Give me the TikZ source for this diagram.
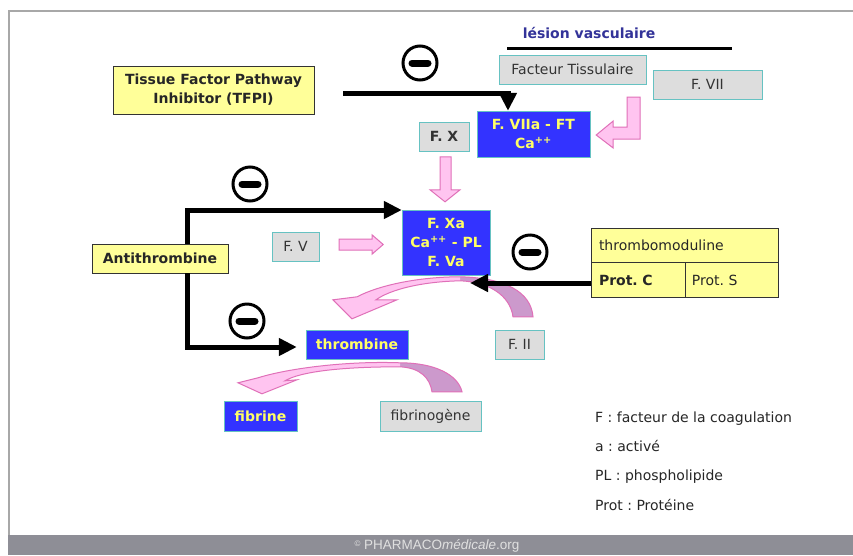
\documentclass[tikz,border=0pt]{standalone}
\usepackage{fontspec}
\setmainfont{DejaVu Sans}
\newfontfamily\sitefont{Liberation Sans}
\frenchspacing
\usetikzlibrary{arrows.meta}
\usetikzlibrary{positioning}

\definecolor{boxyellow}{HTML}{FFFF99}
\definecolor{boxblue}{HTML}{3333FF}
\definecolor{textyellow}{HTML}{FFFF66}
\definecolor{boxgray}{HTML}{DDDDDD}
\definecolor{boxteal}{HTML}{66C2C2}
\definecolor{pinkfill}{HTML}{FFC4F0}
\definecolor{pinkline}{HTML}{E070B8}
\definecolor{mauve}{HTML}{CC99CC}
\definecolor{lesionblue}{HTML}{333399}
\definecolor{framegray}{HTML}{A8A8A8}
\definecolor{footgray}{HTML}{8E8E96}

\begin{document}
\begin{tikzpicture}[x=1pt,y=-1pt] %% coagulation cascade
	\tikzstyle{plainfont}=[font=\fontsize{14}{19}\selectfont];
	\tikzstyle{boldfont}=[font=\fontsize{14}{19}\selectfont\bfseries];
	\tikzstyle{inhibitor}=[rectangle,draw=black!80,fill=boxyellow,boldfont,text=black!85,inner sep=0pt,align=center];
	\tikzstyle{factor}=[rectangle,draw=boxteal,fill=boxgray,plainfont,text=black!80,inner sep=0pt,minimum height=29pt];
	\tikzstyle{complex}=[rectangle,draw=boxteal,fill=boxblue,boldfont,text=textyellow,inner sep=0pt,align=center];
	\tikzstyle{inhib}=[line width=5pt,-{Triangle[length=18pt,width=17pt]}];
	\tikzstyle{inhibsign}=[circle,draw,line width=3pt,minimum size=34pt,inner sep=0pt,
		path picture={\draw[line width=7pt,line cap=round] ([xshift=9pt]path picture bounding box.west) -- ([xshift=-9pt]path picture bounding box.east);}];
	\tikzstyle{pinkblock}=[fill=pinkfill,draw=pinkline,line width=1pt];
	\tikzstyle{legend}=[plainfont,anchor=west,inner sep=0pt,text height=11pt,text depth=3pt,text=black!85];

	\fill[white] (0,0) rectangle (853,555);
	\useasboundingbox (0,0) rectangle (853,555);
	\draw[framegray,line width=2.5pt] (9,535) -- (9,11) -- (853,11);
	\fill[footgray] (8,535) rectangle (853,555);
	\node[font=\sitefont\fontsize{13.5}{16}\selectfont,text=white!88!black] (site) at (437,546)
		{\raisebox{3pt}{\fontsize{8}{8}\selectfont\textcopyright} PHARMACO\textit{médicale}.org};

	\node[factor,minimum width=147pt] (FT) at (572.5,69.5) {Facteur Tissulaire};
	\node[factor,minimum width=109pt] (FVII) at (707.5,84.5) {F. VII};
	\node[boldfont,text=lesionblue] (lesion) at (589,33) {lésion vasculaire};
	\coordinate (lv1) at (507,48);
	\coordinate (lv2) at (732,48);
	\draw[line width=3pt] (lv1) -- (lv2);

	\node[inhibitor,minimum width=201pt,minimum height=48pt] (TFPI) at (213.5,90) {Tissue Factor Pathway\\Inhibitor (TFPI)};
	\node[complex,minimum width=113pt,minimum height=46pt] (VIIaFT) at (533.5,134) {F. VIIa - FT\\Ca\textsuperscript{++}};
	\node[factor,boldfont,minimum width=50pt] (FX) at (444,136.5) {F. X};
	\node[complex,minimum width=88pt,minimum height=65pt] (FXa) at (446,242.5) {F. Xa\\Ca\textsuperscript{++} - PL\\F. Va};
	\node[factor,minimum width=47pt] (FV) at (295.5,246.5) {F. V};
	\node[inhibitor,minimum width=136pt,minimum height=29pt] (AT) at (160,258.5) {Antithrombine};
	\node[complex,minimum width=102pt,minimum height=29pt] (thrombine) at (357,344.5) {thrombine};
	\node[factor,minimum width=49pt] (FII) at (519.5,344.5) {F. II};
	\node[complex,minimum width=73pt,minimum height=30pt] (fibrine) at (260.5,416) {fibrine};
	\node[factor,minimum width=101pt,minimum height=30pt] (fibrinogene) at (430.5,416) {fibrinogène};

	\node[inhibitor,plainfont,minimum width=187pt,minimum height=34pt,text width=171pt,align=left] (TM) at (684.5,245) {thrombomoduline};
	\node[inhibitor,minimum width=94pt,minimum height=35pt,text width=78pt,align=left,anchor=north west] (ProtC) at (TM.south west) {Prot. C};
	\node[inhibitor,plainfont,minimum width=93pt,minimum height=35pt,text width=80pt,align=left,anchor=north west] (ProtS) at (ProtC.north east) {Prot. S};

	% pink activation arrows
	\draw[pinkblock,shift={(FXa.north)}] (-6,-53) -- (5,-53) -- (5,-20) -- (14,-20) -- (-1,-8) -- (-16,-20) -- (-6,-20) -- cycle;
	\draw[pinkblock,shift={(FV.east)}] (20,-7.5) -- (53,-7.5) -- (53,-11.5) -- (64,-2) -- (53,7.5) -- (53,3.5) -- (20,3.5) -- cycle;
	\draw[pinkblock,shift={(VIIaFT.east)}] (37,-37) -- (50,-37) -- (50,5) -- (23,5) -- (23,14) -- (6,1) -- (23,-13) -- (23,-7) -- (37,-7) -- cycle;

	\begin{scope}[shift={(FII.north)}]
		\fill[mauve] (13.5,-13) .. controls (11.5,-38) and (-14.5,-52) .. (-59.5,-53) -- (-59.5,-49) .. controls (-31.5,-48) and (-9.5,-35) .. (-6.5,-13) -- cycle;
		\fill[pinkfill] (-59.5,-53) .. controls (-99.5,-53) and (-139.5,-45) .. (-162.5,-33) -- (-186.5,-30) -- (-167.5,-11) -- (-122.5,-30) -- (-143.5,-30) .. controls (-129.5,-40) and (-99.5,-48) .. (-59.5,-49) -- cycle;
		\draw[pinkline,line width=1pt] (13.5,-13) .. controls (11.5,-38) and (-14.5,-52) .. (-59.5,-53) .. controls (-99.5,-53) and (-139.5,-45) .. (-162.5,-33) -- (-186.5,-30) -- (-167.5,-11) -- (-122.5,-30) -- (-143.5,-30) .. controls (-129.5,-40) and (-99.5,-48) .. (-59.5,-49) .. controls (-31.5,-48) and (-9.5,-35) .. (-6.5,-13) -- cycle;
	\end{scope}
	\begin{scope}[shift={(fibrinogene.north)}]
		\fill[mauve] (31.5,-9) .. controls (27.5,-26) and (4.5,-38) .. (-30.5,-38) -- (-30.5,-34) .. controls (-10.5,-33) and (-0.5,-23) .. (1.5,-9) -- cycle;
		\fill[pinkfill] (-30.5,-38) .. controls (-80.5,-40) and (-140.5,-33) .. (-172.5,-23) -- (-192.5,-18) -- (-168.5,-7) -- (-133.5,-21) -- (-145.5,-20) .. controls (-130.5,-29) and (-90.5,-34) .. (-30.5,-34) -- cycle;
		\draw[pinkline,line width=1pt] (31.5,-9) .. controls (27.5,-26) and (4.5,-38) .. (-30.5,-38) .. controls (-80.5,-40) and (-140.5,-33) .. (-172.5,-23) -- (-192.5,-18) -- (-168.5,-7) -- (-133.5,-21) -- (-145.5,-20) .. controls (-130.5,-29) and (-90.5,-34) .. (-30.5,-34) .. controls (-10.5,-33) and (-0.5,-23) .. (1.5,-9) -- cycle;
	\end{scope}

	% inhibitions
	\node[inhibsign] (tfpiSign) at (420,63) {};
	\node[inhibsign] (atSign) at (250,184) {};
	\node[inhibsign] (tmSign) at (530,252) {};
	\node[inhibsign] (thSign) at (247,321) {};
	\coordinate (tfpiStart) at (343,93);
	\draw[inhib] (tfpiStart) -| ([xshift=-25.5pt]VIIaFT.north);
	\coordinate (atTop) at (187,210);
	\coordinate (atBot) at (187,347);
	\draw[inhib] (AT.north -| atTop) -- (atTop) -- (FXa.west |- atTop);
	\draw[inhib,shorten >=9pt] (AT.south -| atBot) -- (atBot) -- (thrombine.west |- atBot);
	\coordinate (tmTip) at (470,283);
	\draw[inhib] (ProtC.west |- tmTip) -- (tmTip);

	\node[legend] (legF) at (595,418) {F : facteur de la coagulation};
	\node[legend,below=15pt of legF.south west,anchor=north west] (legA) {a : activé};
	\node[legend,below=15pt of legA.south west,anchor=north west] (legPL) {PL : phospholipide};
	\node[legend,below=15pt of legPL.south west,anchor=north west] (legProt) {Prot : Protéine};
\end{tikzpicture}
\end{document}
